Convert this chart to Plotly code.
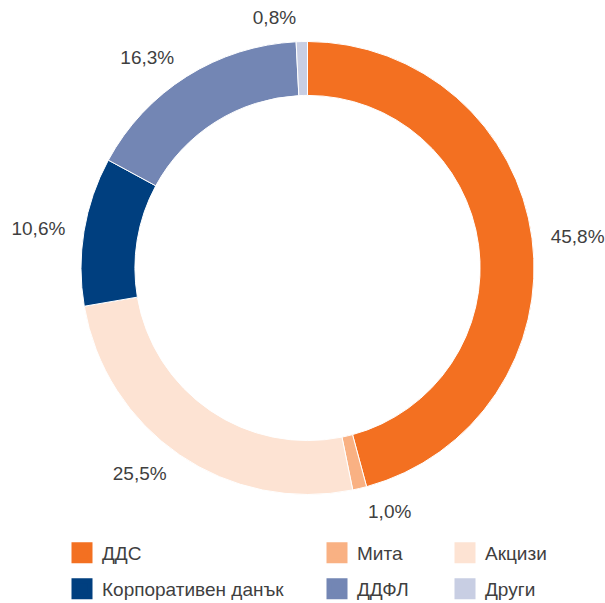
import plotly.graph_objects as go

labels = ["ДДС", "Мита", "Акцизи", "Корпоративен данък", "ДДФЛ", "Други"]
values = [45.8, 1.0, 25.5, 10.6, 16.3, 0.8]
colors = ["#F37021", "#F9B183", "#FDE3D3", "#003F7F", "#7386B4", "#C8CEE3"]

W, H = 605, 603
CX, CY = 307.5, 268.0      # donut centre (px)
R_RING = 226.5             # donut outer radius (px)
R_LABEL = 240.0            # radius of the invisible ring that carries the labels

legend_ids = ["legend", "legend2", "legend3", "legend4", "legend5", "legend6"]
legend_x = [62 / W, 317 / W, 445 / W, 62 / W, 317 / W, 445 / W]
legend_y = [1 - 553 / H, 1 - 553 / H, 1 - 553 / H,
            1 - 589 / H, 1 - 589 / H, 1 - 589 / H]

FONT = "Liberation Sans, Arial, sans-serif"
TXT = "#3F3F3F"


def dom(r):
    return dict(x=[(CX - r) / W, (CX + r) / W], y=[1 - (CY + r) / H, 1 - (CY - r) / H])


fig = go.Figure()
# visible donut
fig.add_trace(go.Pie(
    labels=labels, values=values, sort=False, direction="clockwise", rotation=0,
    hole=0.762,
    marker=dict(colors=colors, line=dict(color="white", width=1)),
    textinfo="none", showlegend=False, hoverinfo="skip", domain=dom(R_RING),
))
# transparent ring used only to place the percentage labels a bit further out
fig.add_trace(go.Pie(
    labels=labels, values=values, sort=False, direction="clockwise", rotation=0,
    hole=0.95,
    marker=dict(colors=["rgba(0,0,0,0)"] * len(values), line=dict(width=0)),
    texttemplate="%{value:.1f}%", textposition="outside",
    textfont=dict(family=FONT, size=19, color=TXT),
    showlegend=False, hoverinfo="skip", domain=dom(R_LABEL),
))

for lab, col, lid in zip(labels, colors, legend_ids):
    fig.add_trace(go.Scatter(
        x=[None], y=[None], mode="markers", name=lab,
        marker=dict(symbol="square", size=16, color=col, line=dict(color=col, width=5)),
        legend=lid, showlegend=True, hoverinfo="skip",
    ))

layout_legends = {}
for lid, lx, ly in zip(legend_ids, legend_x, legend_y):
    layout_legends[lid] = dict(
        x=lx, y=ly, xanchor="left", yanchor="middle",
        bgcolor="rgba(0,0,0,0)", borderwidth=0,
        font=dict(family=FONT, size=19, color=TXT),
    )

fig.update_layout(
    width=W, height=H,
    margin=dict(l=0, r=0, t=0, b=0, autoexpand=False),
    paper_bgcolor="white", plot_bgcolor="white",
    separators=", ",
    xaxis=dict(visible=False), yaxis=dict(visible=False),
    hovermode=False,
    **layout_legends,
)

fig.write_html(
    "out.html",
    config={"displayModeBar": False, "staticPlot": False},
    post_script="document.body.style.margin='0';document.body.style.padding='0';",
)
